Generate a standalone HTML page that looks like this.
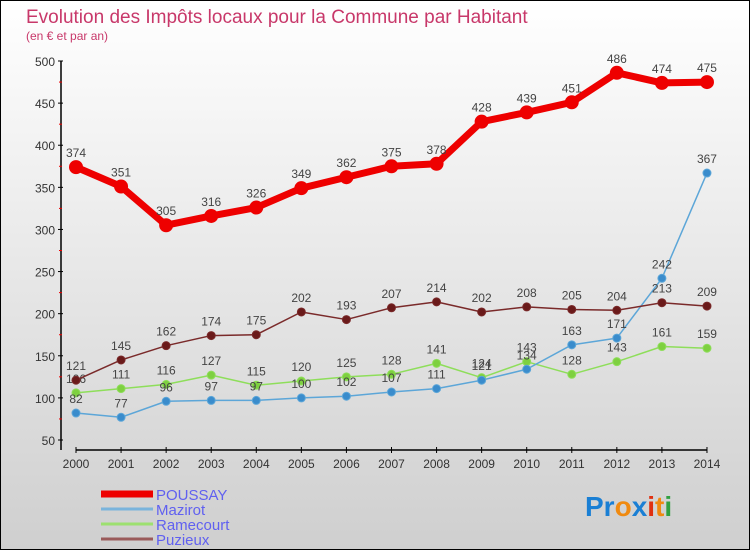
<!DOCTYPE html>
<html><head><meta charset="utf-8"><style>
body{margin:0}
#c{width:748px;height:548px;border:1px solid #000;background:linear-gradient(#ffffff,#cfcfcf);position:relative;font-family:"Liberation Sans",sans-serif}
</style></head><body>
<div id="c">
<svg id="s" width="748" height="548"></svg>
</div>
<script>
const years=[2000,2001,2002,2003,2004,2005,2006,2007,2008,2009,2010,2011,2012,2013,2014];
const poussay=[374,351,305,316,326,349,362,375,378,428,439,451,486,474,475];
const mazirot=[82,77,96,97,97,100,102,107,111,121,134,163,171,242,367];
const ramecourt=[106,111,116,127,115,120,125,128,141,124,143,128,143,161,159];
const puzieux=[121,145,162,174,175,202,193,207,214,202,208,205,204,213,209];
const yTicks=[50,100,150,200,250,300,350,400,450,500];
const NS="http://www.w3.org/2000/svg";
const s=document.getElementById('s');
const X=i=>75+i*45.07, Y=v=>439-(v-50)*0.8422;
function el(t,a,p){const e=document.createElementNS(NS,t);for(const k in a)e.setAttribute(k,a[k]);(p||s).appendChild(e);return e;}
function tx(x,y,str,a){const e=el('text',Object.assign({x:x,y:y},a));e.textContent=str;return e;}
let t=tx(25,22,'Evolution des Impôts locaux pour la Commune par Habitant',{fill:'#c8386a','font-size':19});

t=tx(25,39,'(en € et par an)',{fill:'#c8386a','font-size':12});

let ax=el('g',{});
el('line',{x1:60,y1:Y(500),x2:60,y2:449,stroke:'#000','stroke-width':1.5},ax);
yTicks.forEach(v=>{el('line',{x1:57,x2:62,y1:Y(v),y2:Y(v),stroke:'#000'},ax);
 if(v<500)el('line',{x1:58,x2:61,y1:Y(v+25),y2:Y(v+25),stroke:'#e00'},ax);
 tx(54,Y(v)+5,v,{'text-anchor':'end','font-size':12,fill:'#333'},ax);});
let xa=el('g',{});
el('line',{x1:X(0),x2:X(14),y1:449,y2:449,stroke:'#000','stroke-width':1.5},xa);
years.forEach((y,i)=>{el('line',{x1:X(i),x2:X(i),y1:446,y2:452,stroke:'#000'},xa);tx(X(i),467,y,{'text-anchor':'middle','font-size':12,fill:'#333'},xa);});
function series(d,name,col,w,r,dot,lab){
 const g=el('g',{});
 el('polyline',{points:d.map((v,i)=>X(i)+','+Y(v)).join(' '),fill:'none',stroke:col,'stroke-width':w,'stroke-linejoin':'round'},g);
 d.forEach((v,i)=>{const c=el('circle',{cx:X(i),cy:Y(v),r:r,fill:dot,stroke:col,'stroke-width':1},g);
  
  tx(X(i),Y(v)-10,v,{'text-anchor':'middle','font-size':12,fill:'#444'},g);});
}
series(ramecourt,'ramecourt','#8ede5a',1.5,4,'#7ed040');
series(mazirot,'mazirot','#5ca6d8',1.5,4,'#3a8ccc');
series(puzieux,'puzieux','#7a2a2a',1.5,4,'#6a1a1a');
series(poussay,'poussay','#ee0000',7,6.5,'#ee0000');
const leg=[['POUSSAY','#ee0000',7],['Mazirot','#7ab4dc',3],['Ramecourt','#9de070',3],['Puzieux','#9a5a5a',3]];
leg.forEach((l,i)=>{const g=el('g',{});
 const y=493+i*15;el('line',{x1:100,x2:152,y1:y,y2:y,stroke:l[1],'stroke-width':l[2]},g);
 tx(155,y+6,l[0],{'font-size':15,fill:'#6060f0'},g);});
const lg=el('g',{});
const lt=el('text',{x:584,y:515,'font-size':28,'font-weight':'bold'},lg);
[['Pr','#1a7fd4'],['o','#f08a10'],['x','#1a7fd4'],['i','#e03010'],['t','#f08a10'],['i','#30a040']].forEach(p=>{const sp=el('tspan',{fill:p[1]},lt);sp.textContent=p[0];});
</script>
</body></html>
